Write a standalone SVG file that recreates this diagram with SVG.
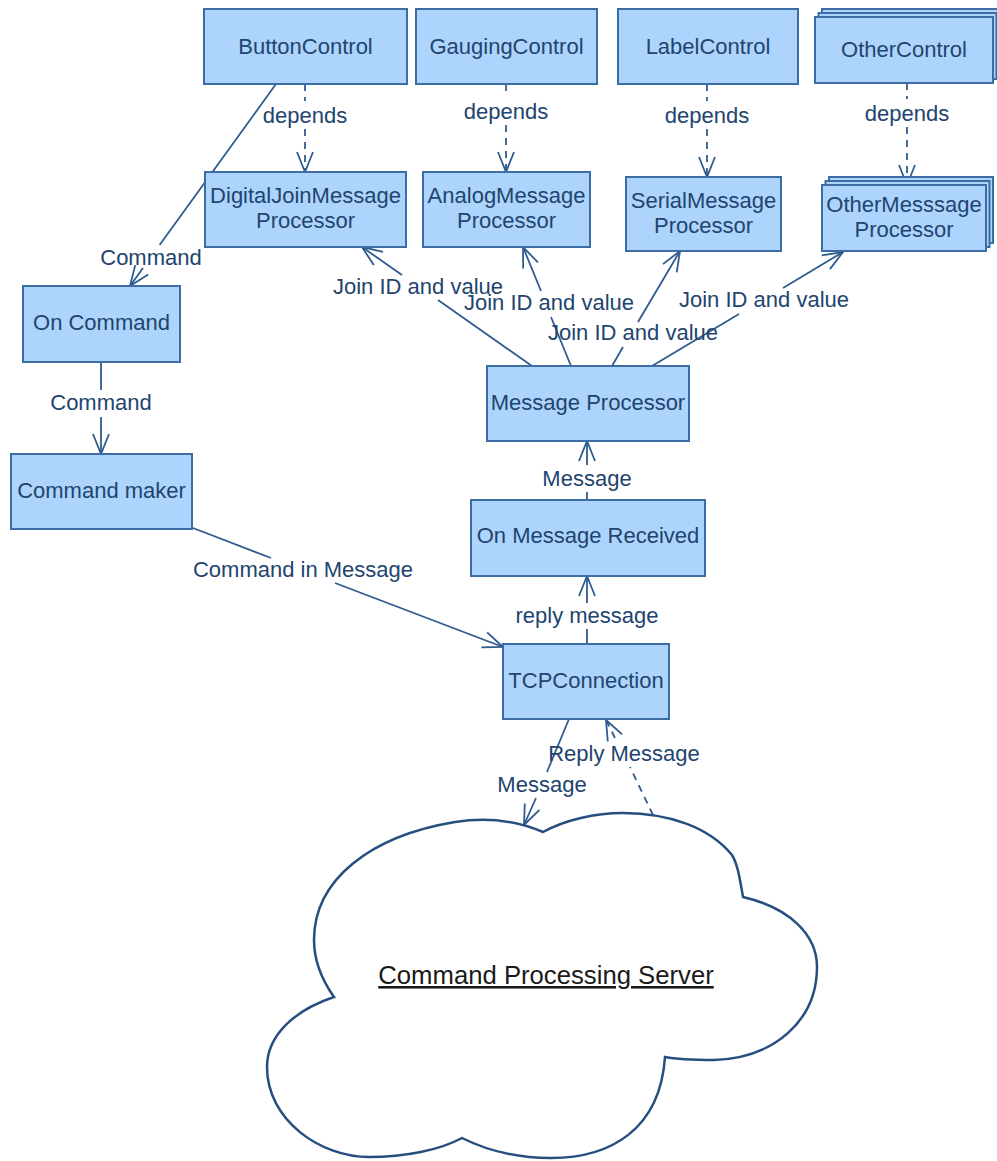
<svg xmlns="http://www.w3.org/2000/svg" width="997" height="1161" viewBox="0 0 997 1161">
<style>
.box{fill:#acd4fc;stroke:#3d6da5;stroke-width:2}
.t{font-family:"Liberation Sans",Arial,sans-serif;font-size:22px;fill:#22446e;text-anchor:middle}
.ln{fill:none;stroke:#2f5c8e;stroke-width:1.8}
.dash{fill:none;stroke:#2f5c8e;stroke-width:1.8;stroke-dasharray:7,6}
.cloud{fill:#ffffff;stroke:#264f80;stroke-width:2.5}
.srv{font-family:"Liberation Sans",Arial,sans-serif;font-size:25.7px;fill:#1a1a1a;text-anchor:middle;text-decoration:underline}
</style>
<defs>
<marker id="arr" markerUnits="userSpaceOnUse" viewBox="-22 -10 24 20" refX="0" refY="0" markerWidth="24" markerHeight="20" orient="auto">
<path d="M-20,-8 L0,0 L-20,8" fill="none" stroke="#2f5c8e" stroke-width="1.8"/>
</marker>
</defs>
<rect width="997" height="1161" fill="#ffffff"/>

<g id="connectors">
<path class="dash" d="M305,84 V101"/><path class="dash" d="M305,129 V172" marker-end="url(#arr)"/>
<path class="dash" d="M506,84 V97"/><path class="dash" d="M506,125 V172" marker-end="url(#arr)"/>
<path class="dash" d="M707,84 V101"/><path class="dash" d="M707,129 V177" marker-end="url(#arr)"/>
<path class="dash" d="M907,83 V99"/><path class="dash" d="M907,127 V185" marker-end="url(#arr)"/>
<path class="ln" d="M276,84 L159.6,245"/><path class="ln" d="M143,268 L130,286" marker-end="url(#arr)"/>
<path class="ln" d="M101,362 V390"/><path class="ln" d="M101,417 V454" marker-end="url(#arr)"/>
<path class="ln" d="M193,528 L271,558"/><path class="ln" d="M335,583 L503,647" marker-end="url(#arr)"/>
<path class="ln" d="M587,644 V629"/><path class="ln" d="M587,603 V576" marker-end="url(#arr)"/>
<path class="ln" d="M587,500 V492"/><path class="ln" d="M587,465 V441" marker-end="url(#arr)"/>
<path class="ln" d="M532,366 L438,300"/><path class="ln" d="M402,275 L362,247" marker-end="url(#arr)"/>
<path class="ln" d="M571,366 L551,317"/><path class="ln" d="M541,291 L523,247" marker-end="url(#arr)"/>
<path class="ln" d="M612,366 L623,347"/><path class="ln" d="M638,322 L680,251" marker-end="url(#arr)"/>
<path class="ln" d="M652,366 L739,314"/><path class="ln" d="M783,288 L843,252" marker-end="url(#arr)"/>
<path class="ln" d="M569,719 L547,772"/><path class="ln" d="M536,798 L524,825" marker-end="url(#arr)"/>
<path class="dash" d="M653,815 L630,767"/><path class="dash" d="M615,738 L606,720" marker-end="url(#arr)"/>

<text class="t" x="305" y="123">depends</text>
<text class="t" x="506" y="119">depends</text>
<text class="t" x="707" y="123">depends</text>
<text class="t" x="907" y="121">depends</text>
<text class="t" x="151" y="265">Command</text>
<text class="t" x="101" y="410">Command</text>
<text class="t" x="303" y="577">Command in Message</text>
<text class="t" x="587" y="486">Message</text>
<text class="t" x="587" y="623">reply message</text>
<text class="t" x="418" y="294">Join ID and value</text>
<text class="t" x="549" y="310">Join ID and value</text>
<text class="t" x="633" y="340">Join ID and value</text>
<text class="t" x="764" y="307">Join ID and value</text>
<text class="t" x="624" y="761">Reply Message</text>
<text class="t" x="542" y="792">Message</text>
</g>

<g id="ButtonControl"><rect class="box" x="204" y="9" width="203" height="75"/><text class="t" x="305.5" y="54">ButtonControl</text></g>
<g id="GaugingControl"><rect class="box" x="416" y="9" width="181" height="75"/><text class="t" x="506.5" y="54">GaugingControl</text></g>
<g id="LabelControl"><rect class="box" x="618" y="9" width="180" height="75"/><text class="t" x="708" y="54">LabelControl</text></g>
<g id="OtherControl">
<rect class="box" x="822" y="9" width="178" height="66"/>
<rect class="box" x="818.5" y="13" width="178" height="66"/>
<rect class="box" x="815" y="17" width="178" height="66"/>
<text class="t" x="904" y="57">OtherControl</text></g>
<g id="DigitalJoinMessageProcessor"><rect class="box" x="205" y="172" width="201" height="75"/><text class="t" x="305.5" y="203">DigitalJoinMessage</text><text class="t" x="305.5" y="228">Processor</text></g>
<g id="AnalogMessageProcessor"><rect class="box" x="423" y="172" width="167" height="75"/><text class="t" x="506.5" y="203">AnalogMessage</text><text class="t" x="506.5" y="228">Processor</text></g>
<g id="SerialMessageProcessor"><rect class="box" x="626" y="177" width="155" height="74"/><text class="t" x="703.5" y="208">SerialMessage</text><text class="t" x="703.5" y="233">Processor</text></g>
<g id="OtherMesssageProcessor">
<rect class="box" x="829" y="177" width="164" height="66"/>
<rect class="box" x="825.5" y="181" width="164" height="66"/>
<rect class="box" x="822" y="185" width="164" height="66"/>
<text class="t" x="904" y="212">OtherMesssage</text><text class="t" x="904" y="237">Processor</text></g>
<g id="OnCommand"><rect class="box" x="23" y="286" width="157" height="76"/><text class="t" x="101.5" y="330">On Command</text></g>
<g id="CommandMaker"><rect class="box" x="11" y="454" width="181" height="75"/><text class="t" x="101.5" y="498">Command maker</text></g>
<g id="MessageProcessor"><rect class="box" x="487" y="366" width="202" height="75"/><text class="t" x="588" y="410">Message Processor</text></g>
<g id="OnMessageReceived"><rect class="box" x="471" y="500" width="234" height="76"/><text class="t" x="588" y="543">On Message Received</text></g>
<g id="TCPConnection"><rect class="box" x="503" y="644" width="166" height="75"/><text class="t" x="586" y="688">TCPConnection</text></g>
<g id="CommandProcessingServer">
<path class="cloud" d="M543,832 C510,818 480,818 455,822 C370,836 314,880 314,940 C314,960 322,980 334,997 C295,1010 267,1035 267,1067 C267,1120 320,1157 369,1157 C405,1157 440,1150 462,1138 C490,1152 520,1158 551,1158 C610,1158 660,1130 665,1057 C680,1060 700,1060 714,1060 C775,1058 817,1020 817,967 C817,935 790,908 743,897 C740,880 738,865 732,855 C710,828 670,813 623,813 C595,813 565,820 543,832 Z"/>
<text class="srv" x="546" y="984">Command Processing Server</text>
</g>
</svg>
